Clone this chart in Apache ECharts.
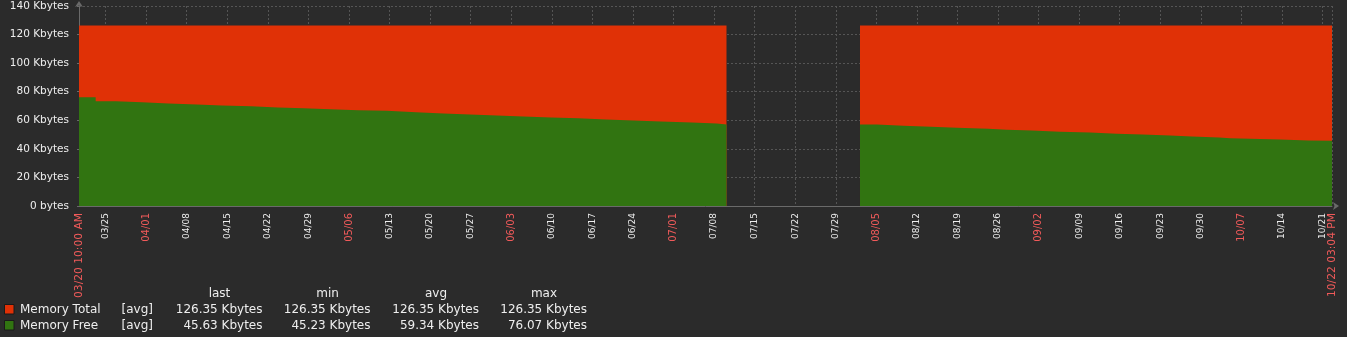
<!DOCTYPE html>
<html>
<head>
<meta charset="utf-8">
<script src="https://cdn.jsdelivr.net/npm/echarts@6/dist/echarts.min.js"></script>
<style>
  html, body { margin: 0; padding: 0; background: #2b2b2b; }
  #chart { width: 1347px; height: 337px; }
</style>
</head>
<body>
<div id="chart"></div>
<script>
// ---------- DATA ----------
const startTime = '2024-03-20 10:00';
const endTime = '2024-10-22 15:04';
const gapTime = '2024-07-10 03:31';

// Memory Total (Kbytes)
const totalTimes1 = ['2024-03-20 10:00', '2024-07-10 03:30'];
const totalValues1 = [126.35, 126.35];
const totalTimes2 = ['2024-08-02 04:20', '2024-10-22 15:04'];
const totalValues2 = [126.35, 126.35];

// Memory Free (Kbytes), step levels
const freeTimes1 = ['2024-03-20 10:00','2024-03-23 07:00','2024-03-26 18:00','2024-03-31 06:00','2024-04-04 20:00',
  '2024-04-09 17:30','2024-04-14 01:00','2024-04-19 02:00','2024-04-23 17:00','2024-04-28 03:00','2024-05-02 17:30',
  '2024-05-07 14:30','2024-05-12 12:00','2024-05-17 13:30','2024-05-22 06:45','2024-05-26 21:00','2024-05-31 12:00',
  '2024-06-05 02:00','2024-06-09 20:40','2024-06-14 14:00','2024-06-19 07:00','2024-06-24 01:40','2024-06-28 19:00',
  '2024-07-04 03:30','2024-07-08 11:00','2024-07-10 03:30'];
const freeValues1 = [76.07,73.3,72.6,71.7,71.0,70.3,69.8,68.9,68.4,67.7,67.0,66.6,65.6,64.7,64.0,63.3,62.6,61.9,
  61.4,60.5,59.8,59.1,58.4,57.7,57.0,57.0];
const freeTimes2 = ['2024-08-02 04:20','2024-08-05 01:30','2024-08-09 15:40','2024-08-14 10:30','2024-08-18 21:00',
  '2024-08-24 07:40','2024-08-27 12:00','2024-08-31 19:30','2024-09-05 16:30','2024-09-10 21:00','2024-09-15 11:00',
  '2024-09-19 21:30','2024-09-24 16:00','2024-09-28 10:00','2024-10-03 03:00','2024-10-05 00:40','2024-10-13 16:00',
  '2024-10-18 13:00','2024-10-22 15:04'];
const freeValues2 = [57.1,56.2,55.5,54.8,54.0,53.3,52.8,51.9,51.4,50.5,50.0,49.3,48.6,47.9,47.4,46.5,45.9,45.63,45.63];

// X tick labels (weekly)
const tickTimes = ['2024-03-25 00:00','2024-04-01 00:00','2024-04-08 00:00','2024-04-15 00:00',
  '2024-04-22 00:00','2024-04-29 00:00','2024-05-06 00:00','2024-05-13 00:00','2024-05-20 00:00','2024-05-27 00:00',
  '2024-06-03 00:00','2024-06-10 00:00','2024-06-17 00:00','2024-06-24 00:00','2024-07-01 00:00','2024-07-08 00:00',
  '2024-07-15 00:00','2024-07-22 00:00','2024-07-29 00:00','2024-08-05 00:00','2024-08-12 00:00','2024-08-19 00:00',
  '2024-08-26 00:00','2024-09-02 00:00','2024-09-09 00:00','2024-09-16 00:00','2024-09-23 00:00','2024-09-30 00:00',
  '2024-10-07 00:00','2024-10-14 00:00','2024-10-21 00:00'];
const tickLabels = ['03/25','04/01','04/08','04/15','04/22','04/29','05/06','05/13','05/20','05/27',
  '06/03','06/10','06/17','06/24','07/01','07/08','07/15','07/22','07/29','08/05','08/12','08/19','08/26','09/02',
  '09/09','09/16','09/23','09/30','10/07','10/14','10/21'];
const redLabels = ['04/01','05/06','06/03','07/01','08/05','09/02','10/07'];
// Edge labels (range start / end)
const edgeTimes = ['2024-03-20 10:00', '2024-10-22 15:04'];
const edgeLabels = ['03/20 10:00 AM','10/22 03:04 PM'];

// Y ticks
const yMin = 0, yMax = 140, yStep = 20;

// Legend table
const legendNames = ['Memory Total', 'Memory Free'];
const legendFunc = ['[avg]', '[avg]'];
const statHeaders = ['last', 'min', 'avg', 'max'];
const statLast = [126.35, 45.63];
const statMin = [126.35, 45.23];
const statAvg = [126.35, 59.34];
const statMax = [126.35, 76.07];

// ---------- BUILD ----------
const ts = s => new Date(s.replace(' ', 'T') + ':00').getTime();
const pairs = (t, v) => t.map((x, i) => [ts(x), v[i]]);
const totalData = pairs(totalTimes1, totalValues1).concat([[ts(gapTime), '-']], pairs(totalTimes2, totalValues2));
const freeData = pairs(freeTimes1, freeValues1).concat([[ts(gapTime), '-']], pairs(freeTimes2, freeValues2));
const tickVals = tickTimes.map(ts);
const edgeVals = edgeTimes.map(ts);
const labelMap = {};
tickVals.forEach((v, i) => { labelMap[v] = tickLabels[i]; });
const edgeMap = {};
edgeVals.forEach((v, i) => { edgeMap[v] = edgeLabels[i]; });

const RED = '#e03106', GREEN = '#317411';
const FONT = '"DejaVu Sans", sans-serif';

const chart = echarts.init(document.getElementById('chart'), null, { renderer: 'canvas' });

const graphics = [];
const rowY = [309.5, 325.5];
const headerY = 293.5;
const colRight = [262.5, 370.5, 479, 587];
const statCols = [statLast, statMin, statAvg, statMax];
const colors = [RED, GREEN];
statHeaders.forEach((h, j) => {
  graphics.push({ type: 'text', style: { text: h, x: colRight[j] - 43, y: headerY, fill: '#eeeeee',
    font: '12px ' + FONT, align: 'center', verticalAlign: 'middle' } });
});
legendNames.forEach((n, i) => {
  graphics.push({ type: 'rect', shape: { x: 4.5, y: rowY[i] - 5, width: 9.5, height: 9.5 },
    style: { fill: colors[i], stroke: '#1a1a1a', lineWidth: 1 } });
  graphics.push({ type: 'text', style: { text: n, x: 20, y: rowY[i], fill: '#eeeeee', font: '12px ' + FONT,
    align: 'left', verticalAlign: 'middle' } });
  graphics.push({ type: 'text', style: { text: legendFunc[i], x: 153, y: rowY[i], fill: '#eeeeee', font: '12px ' + FONT,
    align: 'right', verticalAlign: 'middle' } });
  statCols.forEach((col, j) => {
    graphics.push({ type: 'text', style: { text: col[i].toFixed(2) + ' Kbytes', x: colRight[j], y: rowY[i],
      fill: '#eeeeee', font: '12px ' + FONT, align: 'right', verticalAlign: 'middle' } });
  });
});

const option = {
  backgroundColor: '#2b2b2b',
  animation: false,
  grid: { left: 79, right: 15, top: 6, bottom: 131, containLabel: false },
  xAxis: [
    {
      type: 'value',
      min: ts(startTime),
      max: ts(endTime),
      axisLine: { show: true, lineStyle: { color: '#6a6a6a', width: 1 }, symbol: ['none', 'arrow'], symbolSize: [6, 6], symbolOffset: [0, 7] },
      axisTick: { show: false, customValues: tickVals.concat([edgeVals[1]]) },
      axisLabel: {
        customValues: tickVals,
        rotate: 90,
        margin: 7,
        fontFamily: FONT,
        fontSize: 9,
        color: '#eeeeee',
        hideOverlap: false,
        formatter: v => {
          const l = labelMap[v];
          if (l === undefined) return '';
          if (redLabels.indexOf(l) >= 0) return '{r|' + l + '}';
          return '{w|' + l + '}';
        },
        rich: {
          w: { color: '#eeeeee', fontSize: 9, fontFamily: FONT },
          r: { color: '#f05a5a', fontSize: 10, fontFamily: FONT }
        }
      },
      splitLine: { show: true, lineStyle: { color: '#555555', type: [2, 2], width: 1 } }
    },
    {
      type: 'value',
      position: 'bottom',
      min: ts(startTime),
      max: ts(endTime),
      axisLine: { show: false },
      axisTick: { show: false, customValues: edgeVals },
      splitLine: { show: false },
      axisLabel: {
        customValues: edgeVals,
        showMinLabel: true,
        showMaxLabel: true,
        hideOverlap: false,
        rotate: 90,
        margin: 7,
        fontFamily: FONT,
        fontSize: 10.7,
        color: '#f05a5a',
        formatter: v => edgeMap[v] || ''
      }
    }
  ],
  yAxis: {
    type: 'value',
    min: yMin, max: yMax, interval: yStep,
    axisLine: { show: true, lineStyle: { color: '#6a6a6a', width: 1 }, symbol: ['none', 'arrow'], symbolSize: [6, 6], symbolOffset: [0, 5] },
    axisTick: { show: true, length: 2, lineStyle: { color: '#6a6a6a' } },
    axisLabel: {
      margin: 10, fontFamily: FONT, fontSize: 10.5, color: '#eeeeee',
      formatter: v => v === 0 ? '0 bytes' : v + ' Kbytes'
    },
    splitLine: { show: true, lineStyle: { color: '#555555', type: [2, 2], width: 1 } }
  },
  series: [
    {
      name: 'Memory Total', type: 'line', xAxisIndex: 0, data: totalData, showSymbol: false, connectNulls: false,
      lineStyle: { width: 0 }, areaStyle: { color: RED, opacity: 1 }, z: 2
    },
    {
      name: 'Memory Free', type: 'line', xAxisIndex: 0, step: 'end', data: freeData, showSymbol: false, connectNulls: false,
      lineStyle: { width: 0 }, areaStyle: { color: GREEN, opacity: 1 }, z: 3
    }
  ],
  graphic: graphics
};
chart.setOption(option);
</script>
</body>
</html>
